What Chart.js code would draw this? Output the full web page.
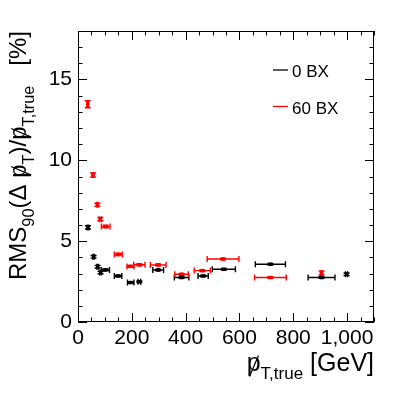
<!DOCTYPE html>
<html>
<head>
<meta charset="utf-8">
<script src="https://cdn.jsdelivr.net/npm/chart.js@4/dist/chart.umd.min.js"></script>
<style>
  html, body { margin: 0; padding: 0; background: #fff; }
  #wrap { width: 407px; height: 393px; }
</style>
</head>
<body>
<div id="wrap"><canvas id="resoChart" width="407" height="393"></canvas></div>
<script>
// pT resolution vs true pT, 0 BX and 60 BX pile-up
const ptBlack     = [37, 58, 73, 84, 102, 149, 196, 228, 298, 385, 465, 542, 715, 905, 998];
const ptBlackErr  = [3, 3, 3, 3, 15, 14, 12, 5, 20, 27, 19, 43, 56, 50, 4];
const rmsBlack    = [5.85, 4.03, 3.42, 3.06, 3.22, 2.85, 2.44, 2.49, 3.22, 2.75, 2.85, 3.26, 3.57, 2.75, 2.95];
const rmsBlackErr = [0.1, 0.08, 0.08, 0.08, 0.06, 0.05, 0.05, 0.05, 0.05, 0.05, 0.05, 0.05, 0.05, 0.05, 0.08];

const ptRed     = [36, 56, 72, 83, 103, 150, 195, 228, 298, 385, 462, 539, 715, 905];
const ptRedErr  = [3, 3, 3, 4, 16, 15, 13, 21, 29, 25, 30, 59, 59, 4];
const rmsRed    = [13.47, 9.09, 7.25, 6.36, 5.9, 4.18, 3.44, 3.54, 3.53, 2.95, 3.18, 3.9, 2.75, 3.03];
const rmsRedErr = [0.22, 0.13, 0.1, 0.1, 0.08, 0.07, 0.06, 0.06, 0.06, 0.06, 0.06, 0.05, 0.05, 0.12];

const seriesNames = ['0 BX', '60 BX'];
const xTicks = [0, 200, 400, 600, 800, 1000];
const yTicks = [0, 5, 10, 15];

const FONT = '"Liberation Sans", Arial, sans-serif';

function pts(xs, ys, xe, ye) {
  return xs.map((x, i) => ({ x: x, y: ys[i], xe: xe[i], ye: ye[i] }));
}

// draws text runs (normal / subscript / slashed letter) along baseline
function runsWidth(ctx, runs, size) {
  let w = 0;
  runs.forEach(r => {
    ctx.font = (r.sub ? size * 0.68 : size) + 'px ' + FONT;
    w += ctx.measureText(r.t).width;
  });
  return w;
}
function drawRuns(ctx, runs, x, y, size) {
  runs.forEach(r => {
    const s = r.sub ? size * 0.68 : size;
    ctx.font = s + 'px ' + FONT;
    const dy = r.sub ? size * 0.32 : 0;
    ctx.fillText(r.t, x, y + dy);
    const w = ctx.measureText(r.t).width;
    if (r.slash) {
      ctx.beginPath();
      ctx.lineWidth = 1.2;
      ctx.moveTo(x + w * 0.2, y + dy + s * 0.22);
      ctx.lineTo(x + w * 0.85, y + dy - s * 0.62);
      ctx.stroke();
    }
    x += w;
  });
}

const rootStyle = {
  id: 'rootStyle',
  beforeDatasetsDraw(chart) {
    const ctx = chart.ctx, xs = chart.scales.x, ys = chart.scales.y, a = chart.chartArea;
    ctx.save();
    ctx.beginPath();
    ctx.rect(a.left, a.top, a.right - a.left, a.bottom - a.top);
    ctx.clip();
    chart.data.datasets.forEach(ds => {
      ctx.strokeStyle = ds.backgroundColor;
      ctx.lineWidth = 1.4;
      ds.data.forEach(p => {
        const px = xs.getPixelForValue(p.x), py = ys.getPixelForValue(p.y);
        const x0 = xs.getPixelForValue(p.x - p.xe), x1 = xs.getPixelForValue(p.x + p.xe);
        const y0 = ys.getPixelForValue(p.y - p.ye), y1 = ys.getPixelForValue(p.y + p.ye);
        ctx.beginPath();
        ctx.moveTo(x0, py); ctx.lineTo(x1, py);
        ctx.moveTo(x0, py - 3); ctx.lineTo(x0, py + 3);
        ctx.moveTo(x1, py - 3); ctx.lineTo(x1, py + 3);
        ctx.moveTo(px, y0); ctx.lineTo(px, y1);
        ctx.moveTo(px - 3, y0); ctx.lineTo(px + 3, y0);
        ctx.moveTo(px - 3, y1); ctx.lineTo(px + 3, y1);
        ctx.stroke();
      });
    });
    ctx.restore();
  },
  afterDraw(chart) {
    const ctx = chart.ctx, xs = chart.scales.x, ys = chart.scales.y, a = chart.chartArea;
    ctx.save();
    ctx.strokeStyle = '#000';
    ctx.fillStyle = '#000';
    ctx.lineWidth = 1;
    // frame
    ctx.strokeRect(a.left + 0.5, a.top + 0.5, a.right - a.left - 1, a.bottom - a.top - 1);
    // inward ticks on all four sides
    ctx.beginPath();
    for (let v = 0; v <= 1100; v += 50) {
      const len = v % 200 === 0 ? 9 : 4.5;
      const px = Math.round(xs.getPixelForValue(v)) + 0.5;
      ctx.moveTo(px, a.bottom); ctx.lineTo(px, a.bottom - len);
      ctx.moveTo(px, a.top); ctx.lineTo(px, a.top + len);
    }
    for (let v = 0; v <= 18; v += 1) {
      const len = v % 5 === 0 ? 9 : 4.5;
      const py = Math.round(ys.getPixelForValue(v)) + 0.5;
      ctx.moveTo(a.left, py); ctx.lineTo(a.left + len, py);
      ctx.moveTo(a.right, py); ctx.lineTo(a.right - len, py);
    }
    ctx.stroke();

    // legend
    ctx.font = '17px ' + FONT;
    ctx.textBaseline = 'alphabetic';
    chart.data.datasets.forEach((ds, i) => {
      const ly = 70 + i * 36.5;
      ctx.strokeStyle = ds.backgroundColor;
      ctx.lineWidth = 1.3;
      ctx.beginPath();
      ctx.moveTo(273, ly); ctx.lineTo(288, ly);
      ctx.stroke();
      ctx.fillStyle = '#000';
      ctx.fillText(ds.label, 292, ly + 7);
    });

    // axis titles
    ctx.fillStyle = '#000';
    ctx.strokeStyle = '#000';
    const xRuns = [
      { t: 'p', slash: true }, { t: 'T,true', sub: true }, { t: ' [GeV]' }
    ];
    const xSize = 25;
    const xw = runsWidth(ctx, xRuns, xSize);
    drawRuns(ctx, xRuns, a.right - xw, 371, xSize);

    const yRuns = [
      { t: 'RMS' }, { t: '90', sub: true }, { t: '(\u0394 ' }, { t: 'p', slash: true },
      { t: 'T', sub: true }, { t: ')/' }, { t: 'p', slash: true }, { t: 'T,true', sub: true },
      { t: '   [%]' }
    ];
    const ySize = 24;
    const yw = runsWidth(ctx, yRuns, ySize);
    ctx.translate(26, a.top);
    ctx.rotate(-Math.PI / 2);
    drawRuns(ctx, yRuns, -yw, 0, ySize);
    ctx.restore();
  }
};

new Chart(document.getElementById('resoChart'), {
  type: 'scatter',
  data: {
    datasets: [
      {
        label: seriesNames[0],
        data: pts(ptBlack, rmsBlack, ptBlackErr, rmsBlackErr),
        backgroundColor: '#000000',
        borderWidth: 0,
        pointStyle: 'rect',
        pointRadius: 2.5
      },
      {
        label: seriesNames[1],
        data: pts(ptRed, rmsRed, ptRedErr, rmsRedErr),
        backgroundColor: '#ff0000',
        borderWidth: 0,
        pointStyle: 'rect',
        pointRadius: 2.5
      }
    ]
  },
  options: {
    responsive: false,
    animation: false,
    layout: { padding: { left: 0, top: 31, right: 33, bottom: 0 } },
    plugins: { legend: { display: false }, tooltip: { enabled: false } },
    scales: {
      x: {
        min: 0, max: 1100,
        grid: { display: false, drawTicks: false },
        border: { display: false },
        afterBuildTicks: s => { s.ticks = xTicks.map(v => ({ value: v })); },
        afterFit: s => { s.height = 71; },
        ticks: { color: '#000', font: { family: FONT, size: 21 }, padding: 4, maxRotation: 0 }
      },
      y: {
        min: 0, max: 18,
        grid: { display: false, drawTicks: false },
        border: { display: false },
        afterBuildTicks: s => { s.ticks = yTicks.map(v => ({ value: v })); },
        afterFit: s => { s.width = 78; },
        ticks: { color: '#000', font: { family: FONT, size: 21 }, padding: 6 }
      }
    }
  },
  plugins: [rootStyle]
});
</script>
</body>
</html>
